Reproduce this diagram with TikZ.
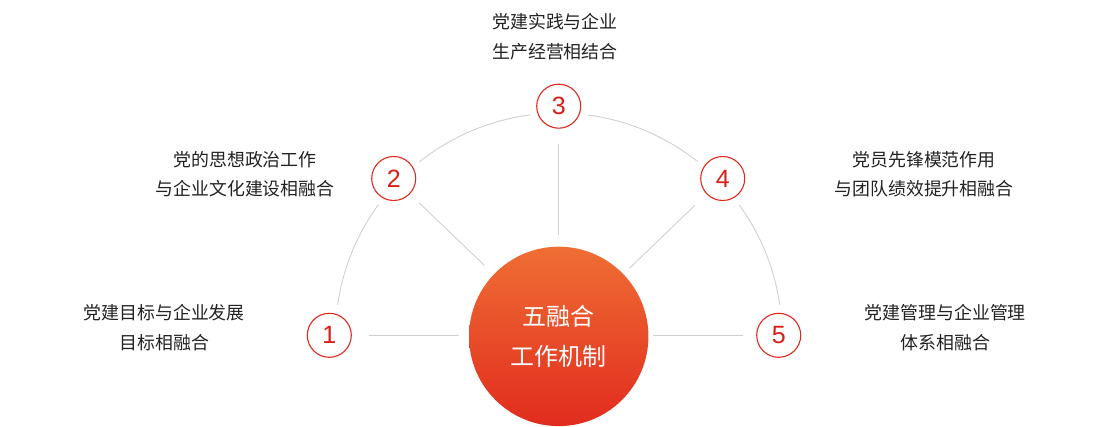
\documentclass[tikz,border=0pt]{standalone}
\usepackage{fontspec}
\usetikzlibrary{calc}
\setmainfont{Noto Sans CJK SC}
\newfontfamily\digitfont{Liberation Sans}
\definecolor{ringred}{RGB}{225,40,30}
\definecolor{digitred}{RGB}{216,30,22}
\definecolor{spokegray}{RGB}{208,208,208}
\definecolor{gradtop}{RGB}{239,110,52}
\definecolor{gradbot}{RGB}{225,44,30}
\definecolor{labeltext}{RGB}{34,34,34}
\begin{document}
\begin{tikzpicture}[x=1pt,y=1pt,
  numcircle/.style={circle,draw=ringred,line width=1.1pt,fill=white,minimum size=44pt,inner sep=0pt,
    font=\digitfont\fontsize{25}{25}\selectfont,text=digitred},
  hub/.style={circle,minimum size=179.4pt,inner sep=0pt,top color=gradtop,bottom color=gradbot,
    align=center,text=white,font=\fontsize{24}{39.3}\selectfont},
  desc/.style={align=center,text=labeltext,font=\fontsize{17.9}{29.6}\selectfont,inner sep=0pt},
  spoke/.style={draw=spokegray,line width=0.9pt},
  ring/.style={draw=spokegray,line width=0.9pt}]
\useasboundingbox (0,0) rectangle (1099,426);
\coordinate (A) at (558.7,89.6);
% arc segments
\draw[ring] ($(A)+(171.9:223.3)$) arc[start angle=171.9,end angle=143.9,radius=223.3];
\draw[ring] ($(A)+(128.6:223.3)$) arc[start angle=128.6,end angle=97.4,radius=223.3];
\draw[ring] ($(A)+(82.5:223.3)$) arc[start angle=82.5,end angle=51.5,radius=223.3];
\draw[ring] ($(A)+(36.0:223.3)$) arc[start angle=36.0,end angle=8.1,radius=223.3];
% hub
\node[hub] (c) at (558.7,89.6) {五融合\\工作机制};
% numbered circles
\node[numcircle] (n1) at (329.3,90.7) {1};
\node[numcircle] (n2) at (393.7,247.5) {2};
\node[numcircle] (n3) at (558.7,319.8) {3};
\node[numcircle] (n4) at (722.7,247.5) {4};
\node[numcircle] (n5) at (778.7,90.7) {5};
% spokes
\draw[spoke,shorten <=16.7pt,shorten >=10pt] (n1.east) -- (c.west |- n1.east);
\draw[spoke,shorten <=12.9pt,shorten >=13pt] (n2) -- (c);
\draw[spoke,shorten <=15.7pt,shorten >=11.7pt] (n3) -- (c);
\draw[spoke,shorten <=15.9pt,shorten >=8.6pt] (n4) -- (c);
\draw[spoke,shorten <=12.7pt,shorten >=4.7pt] (n5.west) -- (c.east |- n5.west);
% labels
\node[desc] (t1) at (164.2,98.5) {党建目标与企业发展\\目标相融合};
\node[desc] (t2) at (245,251.8) {党的思想政治工作\\与企业文化建设相融合};
\node[desc] (t3) at (555,389.3) {党建实践与企业\\生产经营相结合};
\node[desc] (t4) at (924,251.8) {党员先锋模范作用\\与团队绩效提升相融合};
\node[desc] (t5) at (945.3,98.5) {党建管理与企业管理\\体系相融合};
\end{tikzpicture}
\end{document}
